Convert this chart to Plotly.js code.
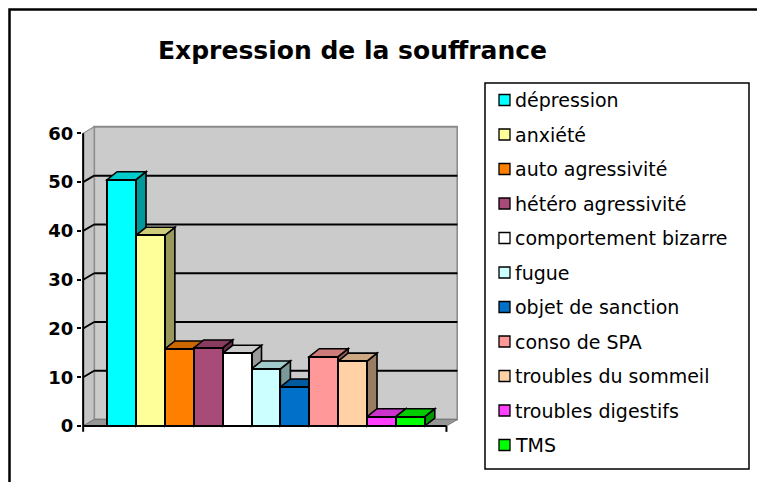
<!DOCTYPE html>
<html>
<head>
<meta charset="utf-8">
<script src="https://cdn.plot.ly/plotly-3.0.1.min.js"></script>
<style>html,body{margin:0;padding:0;background:#fff;}#chart{width:757px;height:482px;}</style>
</head>
<body>
<div id="chart"></div>
<script>
// ---- data ----
const categories = ['dépression', 'anxiété', 'auto agressivité', 'hétéro agressivité',
  'comportement bizarre', 'fugue', 'objet de sanction', 'conso de SPA',
  'troubles du sommeil', 'troubles digestifs', 'TMS'];
const values = [50.5, 39.1, 15.8, 16.0, 14.9, 11.7, 8.0, 14.2, 13.3, 1.9, 1.9];
const yTicks = [0, 10, 20, 30, 40, 50, 60];
const chartTitle = 'Expression de la souffrance';

// ---- styles ----
const frontColors = ['#00FFFF', '#FFFF99', '#FF8000', '#A94B78', '#FFFFFF', '#CCFFFF',
  '#0070C8', '#FF9999', '#FFD1A4', '#FF40FF', '#00FF00'];
function shade(hex, f) {
  const n = parseInt(hex.slice(1), 16);
  const r = Math.round(((n >> 16) & 255) * f), g = Math.round(((n >> 8) & 255) * f), b = Math.round((n & 255) * f);
  return 'rgb(' + r + ',' + g + ',' + b + ')';
}
// geometry (axis units) for the pseudo-3D frame
const xL = -1.33, xR = 11.25;          // front frame edges
const wdx = 0.38, wdy = 1.33;          // wall depth offset
const bdx = 0.346, bdy = 1.64;         // bar depth offset
const yTop = yTicks[yTicks.length - 1];

// pixel layout of the plot area
const PL = 82, PW = 376, PT = 125, PH = 307;
const W = 757, H = 482;
function px(x) { return (x - PL) / PW; }
function py(y) { return (PT + PH - y) / PH; }

const shapes = [];
function poly(pts, fill, lc, lw, layer) {
  shapes.push({type: 'path', xref: 'x', yref: 'y', layer: layer || 'below',
    path: 'M' + pts.map(p => p[0] + ',' + p[1]).join('L') + 'Z',
    fillcolor: fill, line: {color: lc, width: lw}});
}
function seg(x0, y0, x1, y1, c, w, layer) {
  shapes.push({type: 'line', xref: 'x', yref: 'y', layer: layer || 'below',
    x0: x0, y0: y0, x1: x1, y1: y1, line: {color: c, width: w}});
}

// back wall, side wall, floor
poly([[xL + wdx, wdy], [xR + wdx, wdy], [xR + wdx, yTop + wdy], [xL + wdx, yTop + wdy]], '#CBCBCB', '#8C8C8C', 2);
poly([[xL, 0], [xL + wdx, wdy], [xL + wdx, yTop + wdy], [xL, yTop]], '#C4C4C4', '#8C8C8C', 1.2);
poly([[xL, 0], [xR, 0], [xR + wdx, wdy], [xL + wdx, wdy]], '#969696', '#7A7A7A', 1);
// gridlines
yTicks.forEach(v => {
  if (v > 0 && v < yTop) {
    seg(xL, v, xL + wdx, v + wdy, '#000', 1.8);
    seg(xL + wdx, v + wdy, xR + wdx, v + wdy, '#000', 2);
  }
});
// 3D faces of bars
values.forEach((v, i) => {
  const x0 = i - 0.5, x1 = i + 0.5;
  poly([[x1, 0], [x1 + bdx, bdy], [x1 + bdx, v + bdy], [x1, v]], shade(frontColors[i], 0.6), '#000', 1.6);
  poly([[x0, v], [x1, v], [x1 + bdx, v + bdy], [x0 + bdx, v + bdy]], shade(frontColors[i], 0.8), '#000', 1.6);
});
// front axis lines
seg(xL, -1.2, xL, yTop, '#000', 2, 'above');
seg(xL, 0, xR, 0, '#000', 2, 'above');
seg(xR, 0, xR, -1.2, '#000', 2, 'above');

// outer frame
shapes.push({type: 'rect', xref: 'paper', yref: 'paper', layer: 'above',
  x0: px(9.5), x1: px(W + 20), y0: py(H + 20), y1: py(9.5),
  line: {color: '#000', width: 2.5}, fillcolor: 'rgba(0,0,0,0)'});
// legend box
shapes.push({type: 'rect', xref: 'paper', yref: 'paper', layer: 'above',
  x0: px(485), x1: px(749), y0: py(469), y1: py(83),
  line: {color: '#000', width: 1.5}, fillcolor: 'rgba(0,0,0,0)'});
const annotations = [];
categories.forEach((c, i) => {
  const cy = 100 + i * 34.5;
  shapes.push({type: 'rect', xref: 'paper', yref: 'paper', layer: 'above',
    x0: px(499), x1: px(510), y0: py(cy + 5.5), y1: py(cy - 5.5),
    fillcolor: frontColors[i], line: {color: '#000', width: 1.3}});
  annotations.push({xref: 'paper', yref: 'paper', x: px(513), y: py(cy), xanchor: 'left', yanchor: 'middle',
    text: c, showarrow: false, font: {family: 'DejaVu Sans', size: 19, color: '#000'}});
});

const trace = {
  type: 'bar',
  x: values.map((v, i) => i),
  y: values,
  width: values.map(() => 1),
  hovertext: categories,
  hovertemplate: '%{hovertext}: %{y}<extra></extra>',
  marker: {color: frontColors, line: {color: '#000', width: 2}},
  showlegend: false
};

const xr0 = xL - 0.04;
const layout = {
  width: W, height: H,
  margin: {l: PL, r: W - PL - PW, t: PT, b: H - PT - PH, pad: 0},
  paper_bgcolor: '#FFFFFF',
  plot_bgcolor: 'rgba(0,0,0,0)',
  bargap: 0,
  showlegend: false,
  title: {text: chartTitle, xref: 'container', yref: 'container', x: 352.5 / W, y: 1 - 50.5 / H,
    xanchor: 'center', yanchor: 'middle',
    font: {family: 'DejaVu Sans', size: 25, weight: 'bold', color: '#000'}},
  xaxis: {visible: false, range: [xr0, xr0 + 13.02], fixedrange: true},
  yaxis: {range: [-1.23, 61.71], tickmode: 'array', tickvals: yTicks, ticks: 'outside', ticklen: 4,
    tickwidth: 1.5, tickcolor: '#000', showgrid: false, zeroline: false, showline: false, fixedrange: true,
    tickfont: {family: 'DejaVu Sans', size: 18, weight: 'bold', color: '#000'}},
  shapes: shapes,
  annotations: annotations
};
Plotly.newPlot('chart', [trace], layout, {displayModeBar: false, staticPlot: false});
</script>
</body>
</html>
